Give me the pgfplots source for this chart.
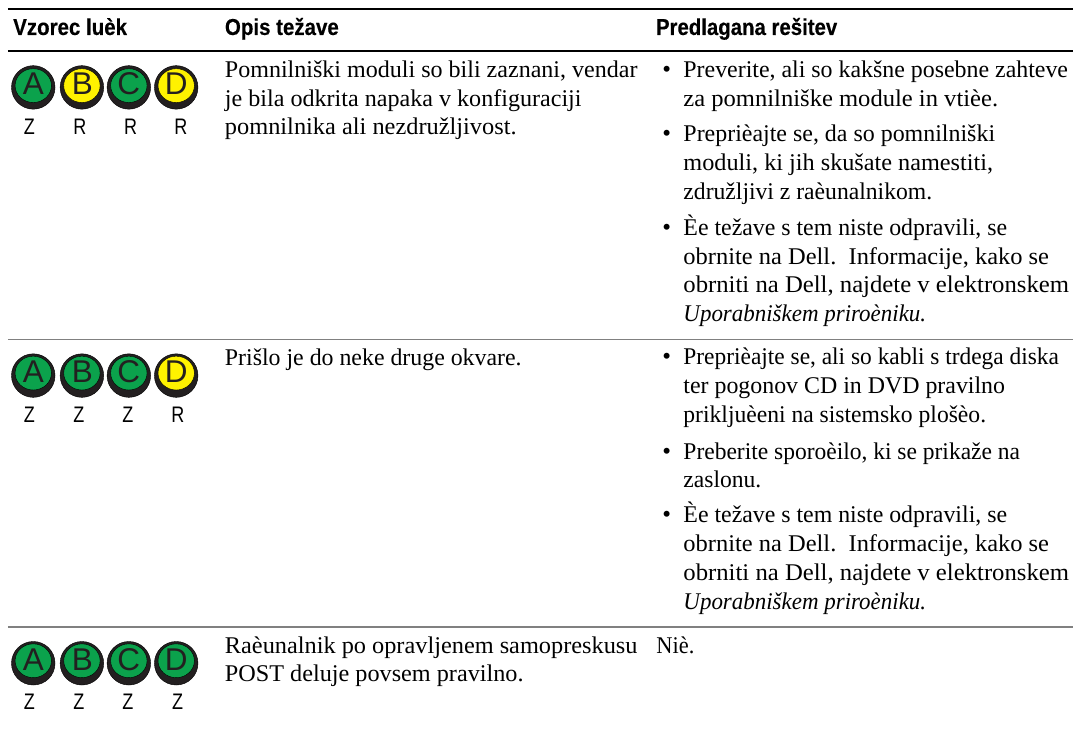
\documentclass[border=0pt]{standalone}
\usepackage{pgfplots}
\pgfplotsset{compat=1.18}
\usepackage{fontspec}
\setmainfont{Liberation Serif}
\newfontfamily\headf[BoldFeatures={FakeBold=0.4}]{Liberation Sans}
\newfontfamily\labf[FakeStretch=0.8]{Liberation Sans}
\newfontfamily\letf{Liberation Sans}
\definecolor{lgreen}{HTML}{0BA24C}
\definecolor{lyellow}{HTML}{FFF200}
\definecolor{ldark}{HTML}{231F20}
\definecolor{lrule}{HTML}{808080}
% #1 left x, #2 baseline y, #3 right end x, #4 text
\newcommand{\T}[4]{\node[anchor=base west,inner sep=0pt,font=\fontsize{24}{26}\selectfont] at (axis cs:#1,#2) {\resizebox{\dimexpr #3pt-#1pt\relax}{\height}{#4}};}
\newcommand{\Bu}[1]{\node[anchor=base west,inner sep=0pt,font=\fontsize{25}{26}\selectfont] at (axis cs:663,#1) {•};}
\newcommand{\Hd}[4]{\node[anchor=base west,inner sep=0pt,font=\headf\bfseries\fontsize{23}{26}\selectfont] at (axis cs:#1,#2) {\resizebox{\dimexpr #3pt-#1pt\relax}{\height}{#4}};}
\begin{document}
\begin{tikzpicture}
\begin{axis}[
  scale only axis,width=1074pt,height=752pt,
  xmin=0,xmax=1074,ymin=0,ymax=752,y dir=reverse,
  hide axis,clip=false]
\path (axis cs:0,0) rectangle (axis cs:1074,752);
% rules
\addplot[black,line width=2.4pt] coordinates {(8,9) (1074,9)};
\addplot[black,line width=2pt] coordinates {(8,51) (1074,51)};
\addplot[lrule,line width=1.5pt] coordinates {(8,340) (1074,340)};
\addplot[lrule,line width=1.5pt] coordinates {(8,627.7) (1074,627.7)};
% lamps: outer discs
\addplot[only marks,mark=*,mark size=21.8pt,mark options={draw=none,fill=ldark}] coordinates {
 (33.3,87.5) (82,87.5) (129,87.5) (176.4,87.5)
 (33.3,376) (82,376) (129,376) (176.4,376)
 (33.3,664) (82,664) (129,664) (176.4,664)};
% green inner
\addplot[only marks,mark=*,mark size=18.2pt,mark options={draw=none,fill=lgreen,yscale=0.93}] coordinates {
 (33.3,85.7) (129,85.7)
 (33.3,373.5) (82,373.5) (129,373.5)
 (33.3,661.5) (82,661.5) (129,661.5) (176.4,661.5)};
% yellow inner
\addplot[only marks,mark=*,mark size=18.2pt,mark options={draw=none,fill=lyellow,yscale=0.93}] coordinates {
 (82,85.7) (176.4,85.7) (176.4,373.5)};
% letters
\addplot[only marks,mark=none,point meta=explicit symbolic,
  nodes near coords,nodes near coords style={anchor=center,inner sep=0pt,text=ldark,font=\letf\fontsize{31.5}{34}\selectfont}]
 coordinates {
 (33.3,84) [A] (82.5,84) [B] (129,84) [C] (176.4,84) [D]
 (33.3,372) [A] (82.5,372) [B] (129,372) [C] (176.4,372) [D]
 (33.3,660) [A] (82.5,660) [B] (129,660) [C] (176.4,660) [D]};
% state labels
\addplot[only marks,mark=none,point meta=explicit symbolic,
  nodes near coords,nodes near coords style={anchor=center,inner sep=0pt,text=black,font=\labf\fontsize{22.5}{25}\selectfont}]
 coordinates {
 (29.5,127) [Z] (80,127) [R] (130.7,127) [R] (181,127) [R]
 (29.5,415) [Z] (79,415) [Z] (128,415) [Z] (178,415) [R]
 (29.5,703) [Z] (79,703) [Z] (128,703) [Z] (177.7,703) [Z]};
% header
\Hd{13}{35}{127}{Vzorec luèk}
\Hd{225}{35}{339}{Opis težave}
\Hd{656.5}{35}{838}{Predlagana rešitev}
% col 2
\T{225}{78}{638}{Pomnilniški moduli so bili zaznani, vendar}
\T{225}{106.5}{582}{je bila odkrita napaka v konfiguraciji}
\T{225}{135}{517}{pomnilnika ali nezdružljivost.}
\T{225}{365.5}{522}{Prišlo je do neke druge okvare.}
\T{225}{654}{638}{Raèunalnik po opravljenem samopreskusu}
\T{225}{682}{524}{POST deluje povsem pravilno.}
% col 3
\Bu{78}\T{684}{78}{1069}{Preverite, ali so kakšne posebne zahteve}
\T{684}{106.5}{999}{za pomnilniške module in vtièe.}
\Bu{142}\T{684}{142}{996}{Preprièajte se, da so pomnilniški}
\T{684}{171}{994}{moduli, ki jih skušate namestiti,}
\T{684}{200}{933}{združljivi z raèunalnikom.}
\Bu{235.5}\T{684}{235.5}{1008}{Èe težave s tem niste odpravili, se}
\T{684}{264.5}{1050}{obrnite na Dell.\ \ Informacije, kako se}
\T{684}{293}{1070}{obrniti na Dell, najdete v elektronskem}
\T{684}{322}{927}{\itshape Uporabniškem priroèniku.}
\Bu{365}\T{684}{365}{1060}{Preprièajte se, ali so kabli s trdega diska}
\T{684}{394}{1006}{ter pogonov CD in DVD pravilno}
\T{684}{423}{987}{prikljuèeni na sistemsko plošèo.}
\Bu{460}\T{684}{460}{1021}{Preberite sporoèilo, ki se prikaže na}
\T{684}{488.5}{762}{zaslonu.}
\Bu{523.5}\T{684}{523.5}{1008}{Èe težave s tem niste odpravili, se}
\T{684}{552.5}{1050}{obrnite na Dell.\ \ Informacije, kako se}
\T{684}{581.5}{1070}{obrniti na Dell, najdete v elektronskem}
\T{684}{610}{927}{\itshape Uporabniškem priroèniku.}
\T{657}{654}{695}{Niè.}
\end{axis}
\end{tikzpicture}
\end{document}
